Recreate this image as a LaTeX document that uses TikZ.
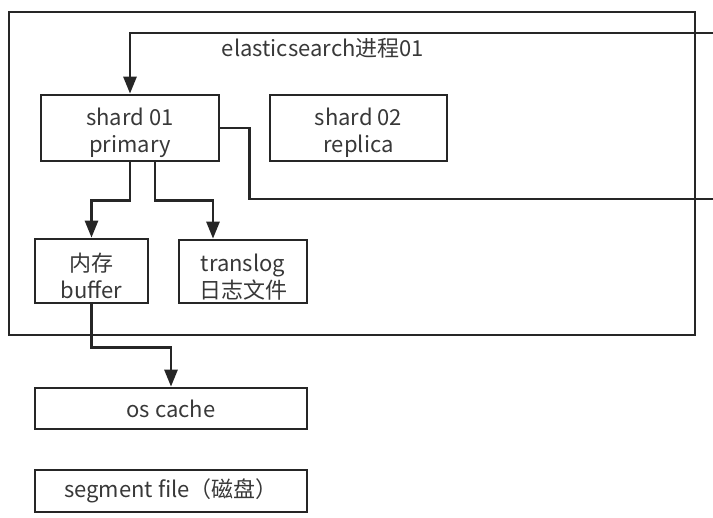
\documentclass[tikz,border=0pt]{standalone}
\usepackage{fontspec}
\setmainfont{Noto Sans CJK SC}
\usetikzlibrary{arrows.meta}
\newcommand{\boxstrut}{\rule{0pt}{28pt}}

\begin{document}
\begin{tikzpicture}[x=1pt,y=-1pt]
		\tikzset{box/.style={draw=black!85,line width=2.7pt,inner sep=0pt,minimum width=#1,align=center,text=black!78,
				font=\fontsize{22}{27}\selectfont},
			arr/.style={draw=black!85,line width=2.7pt,-{Triangle[width=13pt,length=17pt]}},
			wire/.style={draw=black!85,line width=2.7pt}}
		\useasboundingbox (0,0) rectangle (713,518);
		
		\node [box=686pt,minimum height=323pt] (proc) at (352,173.5) {};
		\node [text=black!78,font=\fontsize{22}{27}\selectfont] (title) at (323,48) {elasticsearch进程01};
		\node [box=178pt,minimum height=66pt] (shard01) at (130,128) {\boxstrut shard 01\\primary};
		\node [box=177pt,minimum height=66pt] (shard02) at (358.5,128) {\boxstrut shard 02\\replica};
		\node [box=113pt,minimum height=64pt] (buffer) at (91.5,271) {\boxstrut 内存\\buffer};
		\node [box=128pt,minimum height=63pt] (translog) at (243,271.5) {\boxstrut translog\\日志文件};
		\node [box=272pt,minimum height=41pt] (oscache) at (171,408.5) {os cache};
		\node [box=272pt,minimum height=42pt] (segment) at (171,491) {segment file（磁盘）};
		
		\coordinate (in) at (713,33);
		\coordinate (out) at (713,199);
		\draw[arr] (in) -| (shard01.north);
		\draw[wire] (shard01.east) -- ++(29,0) |- (out);
		\draw[arr] (shard01.south) -- ++(0,38) -| (buffer.north);
		\draw[arr] ([xshift=25pt]shard01.south) -- ++(0,38) -| ([xshift=-30pt]translog.north);
		\draw[arr] (buffer.south) -- ++(0,43) -| (oscache.north);
		\end{tikzpicture}
\end{document}
